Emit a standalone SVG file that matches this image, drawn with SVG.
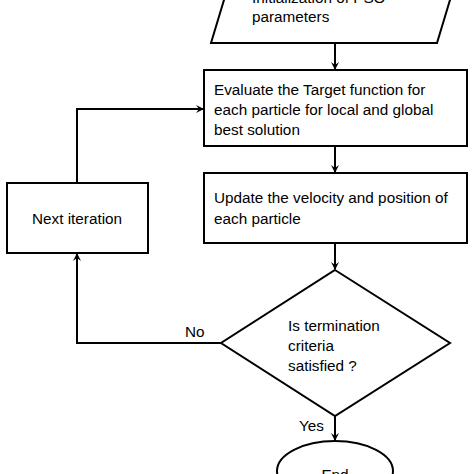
<svg xmlns="http://www.w3.org/2000/svg" width="474" height="474" viewBox="0 0 474 474">
<defs>
<marker id="ah" markerWidth="8" markerHeight="8" refX="7" refY="4" orient="auto" markerUnits="userSpaceOnUse">
<path d="M0,0 L8,4 L0,8 L3,4 Z" fill="#000"/>
</marker>
<style>
.s{fill:#fff;stroke:#000;stroke-width:2}
.t{font-family:"Liberation Sans",Arial,sans-serif;font-size:15.3px;fill:#000}
.c{fill:none;stroke:#000;stroke-width:2}
</style>
</defs>
<rect width="474" height="474" fill="#fff"/>
<g id="init">
<polygon class="s" points="211,43 437,43 453,-10 227,-10"/>
<text class="t" x="252" y="3">Initialization of PSO</text>
<text class="t" x="252" y="22">parameters</text>
</g>
<g id="evaluate">
<rect class="s" x="204" y="70" width="263" height="76"/>
<text class="t" x="214" y="95">Evaluate the Target function for</text>
<text class="t" x="214" y="115">each particle for local and global</text>
<text class="t" x="214" y="135">best solution</text>
</g>
<g id="update">
<rect class="s" x="204" y="173" width="263" height="70"/>
<text class="t" x="214" y="203">Update the velocity and position of</text>
<text class="t" x="214" y="224">each particle</text>
</g>
<g id="next">
<rect class="s" x="7" y="183" width="141" height="70"/>
<text class="t" x="77" y="224" text-anchor="middle">Next iteration</text>
</g>
<g id="decision">
<polygon class="s" points="335,270 450,343 335,416 221,343"/>
<text class="t" x="288" y="331">Is termination</text>
<text class="t" x="288" y="351">criteria</text>
<text class="t" x="288" y="371">satisfied ?</text>
</g>
<g id="end">
<ellipse class="s" cx="335" cy="471" rx="58" ry="30"/>
<text class="t" x="335" y="480" text-anchor="middle">End</text>
</g>
<g id="connectors">
<line class="c" x1="335" y1="43" x2="335" y2="69" marker-end="url(#ah)"/>
<line class="c" x1="335" y1="146" x2="335" y2="172" marker-end="url(#ah)"/>
<line class="c" x1="335" y1="243" x2="335" y2="269" marker-end="url(#ah)"/>
<polyline class="c" points="77,183 77,109 203,109" marker-end="url(#ah)"/>
<polyline class="c" points="221,343 77,343 77,254" marker-end="url(#ah)"/>
<line class="c" x1="335" y1="416" x2="335" y2="440" marker-end="url(#ah)"/>
<text class="t" x="185" y="337">No</text>
<text class="t" x="299" y="431">Yes</text>
</g>
</svg>
